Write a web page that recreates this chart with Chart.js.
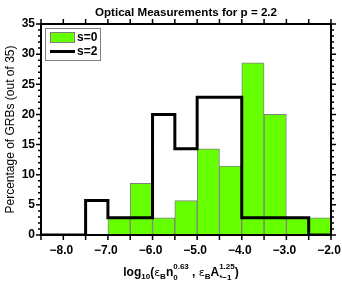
<!DOCTYPE html>
<html>
<head>
<meta charset="utf-8">
<script src="https://cdn.jsdelivr.net/npm/chart.js@4.4.1/dist/chart.umd.min.js"></script>
<style>
  html, body { margin: 0; padding: 0; background: #fff; }
  canvas { display: block; }
</style>
</head>
<body>
<canvas id="chart" width="342" height="284"></canvas>
<script>
// bin centres (width 0.5) and percentages of 35 GRBs
const binCenters = [-6.75, -6.25, -5.75, -5.25, -4.75, -4.25, -3.75, -3.25, -2.75, -2.25];
const s0Values = [2.86, 8.57, 2.86, 5.71, 14.29, 11.43, 28.57, 20.0, 2.86, 2.86];

// step outline for s=2: left bin edges, value held until next edge
const s2Edges = [-8.5, -8.0, -7.5, -7.0, -6.5, -6.0, -5.5, -5.0, -4.5, -4.0, -3.5, -3.0, -2.5, -2.0];
const s2Values = [0, 0, 5.71, 2.86, 2.86, 20.0, 14.29, 22.86, 22.86, 2.86, 2.86, 2.86, 0, 0];

const xMin = -8.5, xMax = -2.0;
const yMin = 0, yMax = 35;

const FONT = '"Liberation Sans", Arial, Helvetica, sans-serif';
const green = '#66ff00';
const gray = '#808080';

function fmt(v) {
  return (v < 0 ? '\u2212' : '') + Math.abs(v).toFixed(1);
}

function drawXLabel(ctx, cx, base) {
  const big = 'bold 12px ' + FONT;
  const small = 'bold 8px ' + FONT;
  const greek = '11px "DejaVu Sans", sans-serif';
  const parts = [
    [{ t: 'log', f: big, dy: 0 }],
    [{ t: '10', f: small, dy: 3 }],
    [{ t: '(', f: big, dy: 0 }],
    [{ t: '\u03b5', f: greek, dy: 0 }],
    [{ t: 'B', f: small, dy: 3 }],
    [{ t: 'n', f: big, dy: 0 }],
    [{ t: '0.63', f: small, dy: -7 }, { t: '0', f: small, dy: 4 }],
    [{ t: ' , ', f: big, dy: 0 }],
    [{ t: '\u03b5', f: greek, dy: 0 }],
    [{ t: 'B', f: small, dy: 3 }],
    [{ t: 'A', f: big, dy: 0 }],
    [{ t: '1.25', f: small, dy: -7 }, { t: '*\u22121', f: small, dy: 4 }],
    [{ t: ')', f: big, dy: 0 }]
  ];
  let total = 0;
  const widths = parts.map(stack => {
    let w = 0;
    stack.forEach(p => { ctx.font = p.f; w = Math.max(w, ctx.measureText(p.t).width); });
    total += w;
    return w;
  });
  let x = cx - total / 2;
  ctx.textAlign = 'left';
  ctx.textBaseline = 'alphabetic';
  parts.forEach((stack, i) => {
    stack.forEach(p => { ctx.font = p.f; ctx.fillText(p.t, x, base + p.dy); });
    x += widths[i];
  });
}

const decor = {
  id: 'decor',
  afterDatasetsDraw(chart) {
    const { ctx, chartArea: a, scales: { x, y } } = chart;
    ctx.save();
    ctx.fillStyle = '#000';
    ctx.strokeStyle = '#000';

    // frame
    ctx.lineWidth = 2;
    ctx.strokeRect(a.left, a.top, a.right - a.left, a.bottom - a.top);

    // tick marks on all four sides
    ctx.lineWidth = 1.5;
    ctx.beginPath();
    for (let v = xMin; v <= xMax + 1e-9; v += 0.5) {
      const px = x.getPixelForValue(v);
      ctx.moveTo(px, a.bottom); ctx.lineTo(px, a.bottom + 5);
      ctx.moveTo(px, a.top); ctx.lineTo(px, a.top - 5);
    }
    for (let v = yMin; v <= yMax; v++) {
      const py = y.getPixelForValue(v);
      const len = v % 5 === 0 ? 5 : 3;
      ctx.moveTo(a.left, py); ctx.lineTo(a.left - len, py);
      ctx.moveTo(a.right, py); ctx.lineTo(a.right + len, py);
    }
    ctx.stroke();

    // legend
    const ds = chart.data.datasets;
    ctx.fillStyle = '#fff';
    ctx.fillRect(45.5, 28.5, 55, 32);
    ctx.lineWidth = 1;
    ctx.strokeStyle = gray;
    ctx.strokeRect(45.5, 28.5, 55, 32);
    ctx.fillStyle = ds[1].backgroundColor;
    ctx.fillRect(50.5, 32.5, 24, 10);
    ctx.strokeRect(50.5, 32.5, 24, 10);
    ctx.strokeStyle = ds[0].borderColor;
    ctx.lineWidth = 3;
    ctx.beginPath();
    ctx.moveTo(50, 51.5); ctx.lineTo(75, 51.5);
    ctx.stroke();
    ctx.fillStyle = '#000';
    ctx.font = 'bold 12px ' + FONT;
    ctx.textAlign = 'left';
    ctx.textBaseline = 'middle';
    ctx.fillText(ds[1].label, 77, 38);
    ctx.fillText(ds[0].label, 77, 52);

    // title
    ctx.textAlign = 'center';
    ctx.textBaseline = 'alphabetic';
    ctx.font = 'bold 11.6px ' + FONT;
    ctx.fillText('Optical Measurements for p = 2.2', (a.left + a.right) / 2, 15.5);

    // y axis title
    ctx.save();
    ctx.translate(11, (a.top + a.bottom) / 2);
    ctx.rotate(-Math.PI / 2);
    ctx.font = '12px ' + FONT;
    ctx.textBaseline = 'middle';
    ctx.fillText('Percentage of GRBs (out of 35)', 0, 0);
    ctx.restore();

    // x axis title with sub/superscripts
    drawXLabel(ctx, 181, 275.5);
    ctx.restore();
  }
};

new Chart(document.getElementById('chart'), {
  type: 'bar',
  data: {
    datasets: [
      {
        type: 'line',
        label: 's=2',
        data: s2Edges.map((e, i) => ({ x: e, y: s2Values[i] })),
        stepped: true,
        borderColor: '#000',
        borderWidth: 3,
        pointRadius: 0,
        fill: false,
        order: 0
      },
      {
        type: 'bar',
        label: 's=0',
        data: binCenters.map((c, i) => ({ x: c, y: s0Values[i] })),
        backgroundColor: green,
        borderColor: gray,
        borderWidth: 1,
        borderSkipped: false,
        barPercentage: 1,
        categoryPercentage: 1,
        order: 1
      }
    ]
  },
  options: {
    responsive: false,
    animation: false,
    events: [],
    layout: { padding: { top: 24, right: 11, left: 0, bottom: 0 } },
    plugins: { legend: { display: false }, tooltip: { enabled: false }, title: { display: false } },
    scales: {
      x: {
        type: 'linear',
        min: xMin,
        max: xMax,
        offset: false,
        grid: { display: false, drawTicks: false },
        border: { display: false },
        ticks: {
          stepSize: 1,
          includeBounds: false,
          autoSkip: false,
          maxRotation: 0,
          padding: 8,
          labelOffset: -2,
          color: '#000',
          font: { family: FONT, size: 12, weight: 'bold' },
          callback: v => (Number.isInteger(v) ? fmt(v) : '')
        },
        afterFit(s) { s.height = 49; s.paddingLeft = 0; s.paddingRight = 0; }
      },
      y: {
        min: yMin,
        max: yMax,
        grid: { display: false, drawTicks: false },
        border: { display: false },
        ticks: {
          stepSize: 5,
          padding: 6,
          color: '#000',
          font: { family: FONT, size: 12, weight: 'bold' }
        },
        afterFit(s) { s.width = 41; s.paddingTop = 0; s.paddingBottom = 0; }
      }
    }
  },
  plugins: [decor]
});
</script>
</body>
</html>
